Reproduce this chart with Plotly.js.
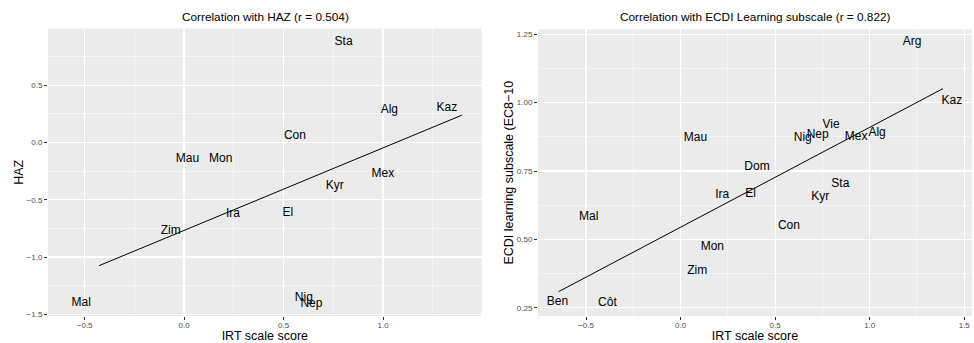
<!DOCTYPE html>
<html>
<head>
<meta charset="utf-8">
<script src="https://cdn.plot.ly/plotly-3.0.1.min.js"></script>
<style>html,body{margin:0;padding:0;background:#fff;}#chart{width:974px;height:343px;}</style>
</head>
<body>
<div id="chart"></div>
<script>
// Left panel: IRT scale score vs HAZ
const hazLabels = ["Sta","Alg","Kaz","Con","Mau","Mon","Mex","Kyr","Ira","El","Zim","Mal","Nig","Nep"];
const hazX = [0.802,1.032,1.321,0.557,0.017,0.184,0.999,0.757,0.246,0.522,-0.067,-0.517,0.602,0.640];
const hazY = [0.873,0.282,0.297,0.058,-0.142,-0.142,-0.276,-0.384,-0.626,-0.617,-0.777,-1.399,-1.355,-1.408];
const hazFitX = [-0.428, 1.396];
const hazFitY = [-1.076, 0.238];

// Right panel: IRT scale score vs ECDI learning subscale
const ecdiLabels = ["Arg","Kaz","Vie","Nep","Nig","Mex","Alg","Mau","Dom","Ira","El","Sta","Kyr","Mal","Con","Mon","Zim","Ben","Côt"];
const ecdiX = [1.224,1.435,0.796,0.725,0.646,0.928,1.039,0.079,0.404,0.220,0.370,0.845,0.739,-0.486,0.573,0.168,0.088,-0.651,-0.387];
const ecdiY = [1.221,1.007,0.918,0.882,0.872,0.873,0.888,0.870,0.763,0.661,0.665,0.701,0.655,0.582,0.548,0.472,0.384,0.272,0.266];
const ecdiFitX = [-0.645, 1.387];
const ecdiFitY = [0.309, 1.051];

const titles = ["Correlation with HAZ (r = 0.504)", "Correlation with ECDI Learning subscale (r = 0.822)"];
const xTitle = "IRT scale score";
const yTitles = ["HAZ", "ECDI learning subscale (EC8−10"];

const W = 974, H = 343;
const FONT = "Liberation Sans, Arial, Helvetica, sans-serif";

const textFont = {family: FONT, size: 12, color: "#000"};
const traces = [
  {x: hazX, y: hazY, text: hazLabels, mode: "text", textposition: "middle center",
   textfont: textFont, xaxis: "x", yaxis: "y", hoverinfo: "none", showlegend: false},
  {x: hazFitX, y: hazFitY, mode: "lines", line: {color: "#000", width: 1},
   xaxis: "x", yaxis: "y", hoverinfo: "none", showlegend: false},
  {x: ecdiX, y: ecdiY, text: ecdiLabels, mode: "text", textposition: "middle center",
   textfont: textFont, xaxis: "x2", yaxis: "y2", hoverinfo: "none", showlegend: false},
  {x: ecdiFitX, y: ecdiFitY, mode: "lines", line: {color: "#000", width: 1},
   xaxis: "x2", yaxis: "y2", hoverinfo: "none", showlegend: false}
];

function px2x(p){ return p / W; }
function py2y(p){ return 1 - p / H; }

function axisBase(extra){
  return Object.assign({
    showgrid: true, gridcolor: "#ffffff", gridwidth: 1.2,
    zeroline: false, showline: false,
    ticks: "outside", ticklen: 3, tickwidth: 1, tickcolor: "#333333",
    tickfont: {family: FONT, size: 8, color: "#4D4D4D"},
    automargin: false, fixedrange: true
  }, extra);
}
const minorGrid = (d) => ({dtick: d, tick0: 0, showgrid: true, gridcolor: "#f7f7f7", gridwidth: 0.8});
const titleFont = {family: FONT, size: 12.5, color: "#000"};

const layout = {
  width: W, height: H,
  margin: {l: 0, r: 0, t: 0, b: 0},
  paper_bgcolor: "#ffffff",
  plot_bgcolor: "#EBEBEB",
  font: {family: FONT, color: "#000"},
  showlegend: false,
  xaxis: axisBase({
    domain: [px2x(48), px2x(481.7)], range: [-0.684, 1.496], anchor: "y",
    dtick: 0.5, tick0: 0, tickformat: ".1f", ticklabelstandoff: -2,
    minor: minorGrid(0.25),
    title: {text: xTitle, font: titleFont, standoff: 4}
  }),
  yaxis: axisBase({
    domain: [py2y(316), py2y(28.5)], range: [-1.515, 0.995], anchor: "x",
    dtick: 0.5, tick0: 0, tickformat: ".1f",
    minor: minorGrid(0.25),
    title: {text: yTitles[0], font: titleFont, standoff: 0}
  }),
  xaxis2: axisBase({
    domain: [px2x(538), px2x(972)], range: [-0.754, 1.541], anchor: "y2",
    dtick: 0.5, tick0: 0, tickformat: ".1f", ticklabelstandoff: -2,
    minor: minorGrid(0.25),
    title: {text: xTitle, font: titleFont, standoff: 4}
  }),
  yaxis2: axisBase({
    domain: [py2y(316), py2y(29.3)], range: [0.220, 1.268], anchor: "x2",
    dtick: 0.25, tick0: 0, tickformat: ".2f",
    minor: minorGrid(0.125),
    title: {text: yTitles[1], font: titleFont, standoff: 0}
  }),
  annotations: [
    {text: titles[0], xref: "paper", yref: "paper", x: px2x(265), y: py2y(17.3),
     xanchor: "center", yanchor: "middle", showarrow: false,
     font: {family: FONT, size: 11.8, color: "#000"}},
    {text: titles[1], xref: "paper", yref: "paper", x: px2x(755), y: py2y(17.3),
     xanchor: "center", yanchor: "middle", showarrow: false,
     font: {family: FONT, size: 11.8, color: "#000"}}
  ]
};

Plotly.newPlot("chart", traces, layout, {staticPlot: true, displayModeBar: false});
</script>
</body>
</html>
